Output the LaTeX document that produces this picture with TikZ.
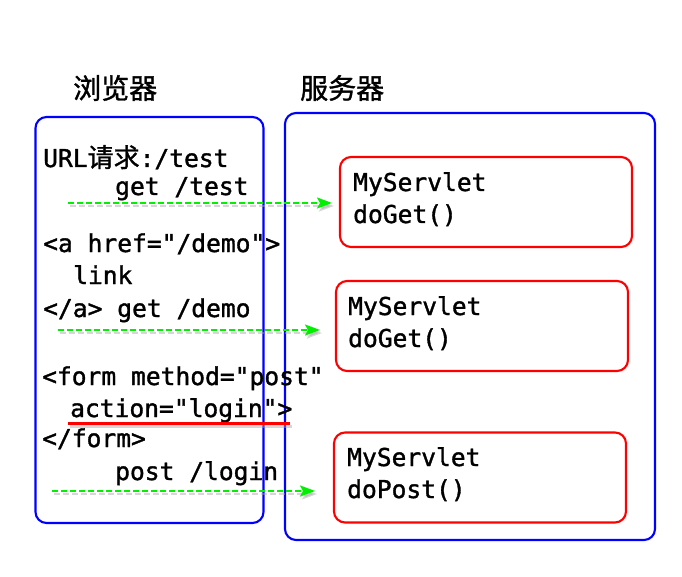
\documentclass[tikz,border=0pt]{standalone}
\usepackage{fontspec}
\newfontfamily\cjk{Noto Sans CJK SC}[FakeBold=1.2]
\newfontfamily\codefont{DejaVu Sans Mono}[FakeBold=1.4]
\usetikzlibrary{arrows.meta}
\definecolor{arrowgreen}{RGB}{0,240,0}
\tikzset{
  bluebox/.style={draw=blue, line width=2.1pt, rounded corners=11pt, inner sep=0pt},
  redbox/.style={draw=red, line width=2.1pt, rounded corners=11pt, inner sep=0pt, minimum width=292pt, minimum height=90pt},
  code/.style={inner sep=0pt, anchor=base west, font=\codefont\fontsize{24.6}{30}\selectfont},
  titletext/.style={inner sep=0pt, anchor=west, font=\cjk\fontsize{28}{32}\selectfont},
  garrow/.style={draw=arrowgreen, line width=2.1pt, dash pattern=on 6pt off 3pt, -{Stealth[length=15pt, width=11pt, inset=3pt]}},
  gshadow/.style={draw=black!35, opacity=0.45, line width=2.4pt, dash pattern=on 6pt off 3pt, -{Stealth[length=15pt, width=11pt, inset=3pt]}},
}
\begin{document}
\begin{tikzpicture}[x=1pt, y=-1pt]
\useasboundingbox (0,0) rectangle (682,577);
\fill[white] (0,0) rectangle (682,577);

% titles
\node[titletext] (t1) at (73,88) {浏览器};
\node[titletext] (t2) at (300,88) {服务器};

% containers
\node[bluebox, minimum width=228pt, minimum height=406pt] (lb) at (149.5,320) {};
\node[bluebox, minimum width=370pt, minimum height=427pt] (rb) at (470,326.5) {};

% servlet boxes
\node[redbox] (r1) at (486,202) {};
\node[redbox] (r2) at (482,326) {};
\node[redbox] (r3) at (480,477.5) {};

\node[code] (r1a) at (353,191) {MyServlet};
\node[code] (r1b) at (353,223) {doGet()};
\node[code] (r2a) at (348,315) {MyServlet};
\node[code] (r2b) at (348,347) {doGet()};
\node[code] (r3a) at (347,466) {MyServlet};
\node[code] (r3b) at (347,498) {doPost()};

% browser code lines
\node[code] (l1) at (43,167) {URL{\cjk\fontsize{26}{30}\selectfont 请求}:/test};
\node[code] (l2) at (115,195) {get /test};
\node[code] (l3) at (43,252) {<a href="/demo">};
\node[code] (l4) at (73,284) {link};
\node[code] (l5) at (43,317) {</a> get /demo};
\node[code] (l6) at (42,385) {<form method="post"};
\node[code] (l7) at (70,417) {action="login">};
\node[code] (l8) at (42,447) {</form>};
\node[code] (l9) at (115,480) {post /login};

% arrow coordinates
\coordinate (s1) at (68,203);
\coordinate (e1) at (332,203);
\coordinate (s2) at (58,330);
\coordinate (e2) at (320,330);
\coordinate (s3) at (52,491);
\coordinate (e3) at (315,491);
\coordinate (u1) at (68,423);
\coordinate (u2) at (290,423);

% shadows
\draw[gshadow] ([shift={(2,3)}]s1) -- ([shift={(2,3)}]e1);
\draw[gshadow] ([shift={(2,3)}]s2) -- ([shift={(2,3)}]e2);
\draw[gshadow] ([shift={(2,3)}]s3) -- ([shift={(2,3)}]e3);
\draw[draw=black!35, opacity=0.45, line width=3pt] ([shift={(2,3)}]u1) -- ([shift={(2,3)}]u2);

% arrows
\draw[garrow] (s1) -- (e1);
\draw[garrow] (s2) -- (e2);
\draw[garrow] (s3) -- (e3);

% red underline
\draw[red, line width=3pt] (u1) -- (u2);
\end{tikzpicture}
\end{document}
